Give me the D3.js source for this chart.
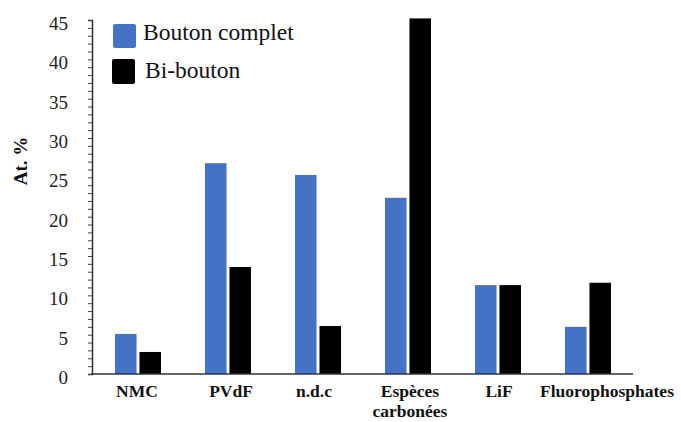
<!DOCTYPE html>
<html><head><meta charset="utf-8">
<script src="https://cdn.jsdelivr.net/npm/d3@7"></script>
<style>html,body{margin:0;padding:0;background:#fff;overflow:hidden} svg{display:block} svg, svg g, svg text, svg tspan{font-family:'Liberation Serif','Times New Roman','DejaVu Serif',serif !important;}</style>
</head><body>
<svg id="c" width="681" height="422"></svg>
<script>
const categories = ["NMC", "PVdF", "n.d.c", "Espèces\ncarbonées", "LiF", "Fluorophosphates"];
const seriesNames = ["Bouton complet", "Bi-bouton"];
const boutonComplet = [5.1, 26.8, 25.3, 22.4, 11.3, 6.0];
const biBouton = [2.8, 13.6, 6.1, 45.2, 11.3, 11.6];
const yTicks = [0, 5, 10, 15, 20, 25, 30, 35, 40, 45];
const colors = ["#4472C4", "#000000"];
// layout only: horizontal nudges of category labels as in the original
const labelDx = [0, 4, -3, 3, 2, 20];
const SERIF = "'Liberation Serif','Times New Roman',serif";

const svg = d3.select("#c");
const x0 = d3.scaleBand().domain(categories).range([92, 632]).paddingInner(0).paddingOuter(0);
const x1 = d3.scaleBand().domain(seriesNames).range([23, 69]).paddingInner(0.12);
const y = d3.scaleLinear().domain([0, 45]).range([374, 20]);

const data = categories.map((c, i) => ({c, vals: [boutonComplet[i], biBouton[i]]}));

const g = svg.append("g");
g.selectAll("g.grp").data(data).enter().append("g")
  .attr("transform", d => `translate(${x0(d.c)},0)`)
  .selectAll("rect").data(d => d.vals.map((v, j) => ({v, s: seriesNames[j], j})))
  .enter().append("rect")
  .attr("x", d => x1(d.s))
  .attr("width", x1.bandwidth())
  .attr("y", d => y(d.v))
  .attr("height", d => y(0) - y(d.v))
  .attr("fill", d => colors[d.j]);

// y axis minor ticks
const yAxis = d3.axisLeft(y).tickValues(d3.range(0, 46, 1)).tickSize(4).tickFormat("");
const ya = svg.append("g").attr("transform", "translate(92,0)").call(yAxis);
ya.select(".domain").attr("stroke", "#333").attr("stroke-width", 1.5);
ya.selectAll(".tick line").attr("stroke", "#444");

const yLab = d3.axisLeft(y).tickValues(yTicks).tickSize(0).tickPadding(24);
const yl = svg.append("g").attr("transform", "translate(92,0)").call(yLab);
yl.attr("font-family", SERIF).attr("font-size", 19);
yl.select(".domain").remove();
yl.selectAll("text").attr("font-family", SERIF).attr("font-size", 19).attr("fill", "#222").attr("dy", "0.5em");

// x axis
const xa = svg.append("g").attr("transform", "translate(0,374)")
  .call(d3.axisBottom(x0).tickSize(0).tickFormat(""));
xa.attr("font-family", SERIF);
xa.select(".domain").attr("stroke", "#333").attr("stroke-width", 1.5).attr("d", "M91,0H633");
xa.selectAll(".tick").each(function(d, i) {
  const t = d3.select(this).append("text").attr("fill", "#111")
    .attr("font-family", SERIF).attr("font-weight", "bold")
    .attr("font-size", 17.5).attr("text-anchor", "middle");
  d.split("\n").forEach((line, k) => {
    t.append("tspan").attr("x", labelDx[i]).attr("y", 23 + k * 20).text(line);
  });
});

// y title
svg.append("text").attr("transform", "translate(27,161) rotate(-90)")
  .attr("text-anchor", "middle").attr("font-family", SERIF)
  .attr("font-weight", "bold").attr("font-size", 19).attr("fill", "#111").text("At. %");

// legend
const leg = svg.append("g");
const legRectY = [24, 59];
const legTextY = [40, 78];
seriesNames.forEach((s, i) => {
  leg.append("rect").attr("x", 113 - i).attr("y", legRectY[i]).attr("width", 23).attr("height", 24 + i)
    .attr("rx", 2).attr("fill", colors[i]);
  leg.append("text").attr("x", 143 + i * 2).attr("y", legTextY[i]).attr("font-family", SERIF)
    .attr("font-size", 23.5).attr("fill", "#111").text(s);
});
</script>
</body></html>
